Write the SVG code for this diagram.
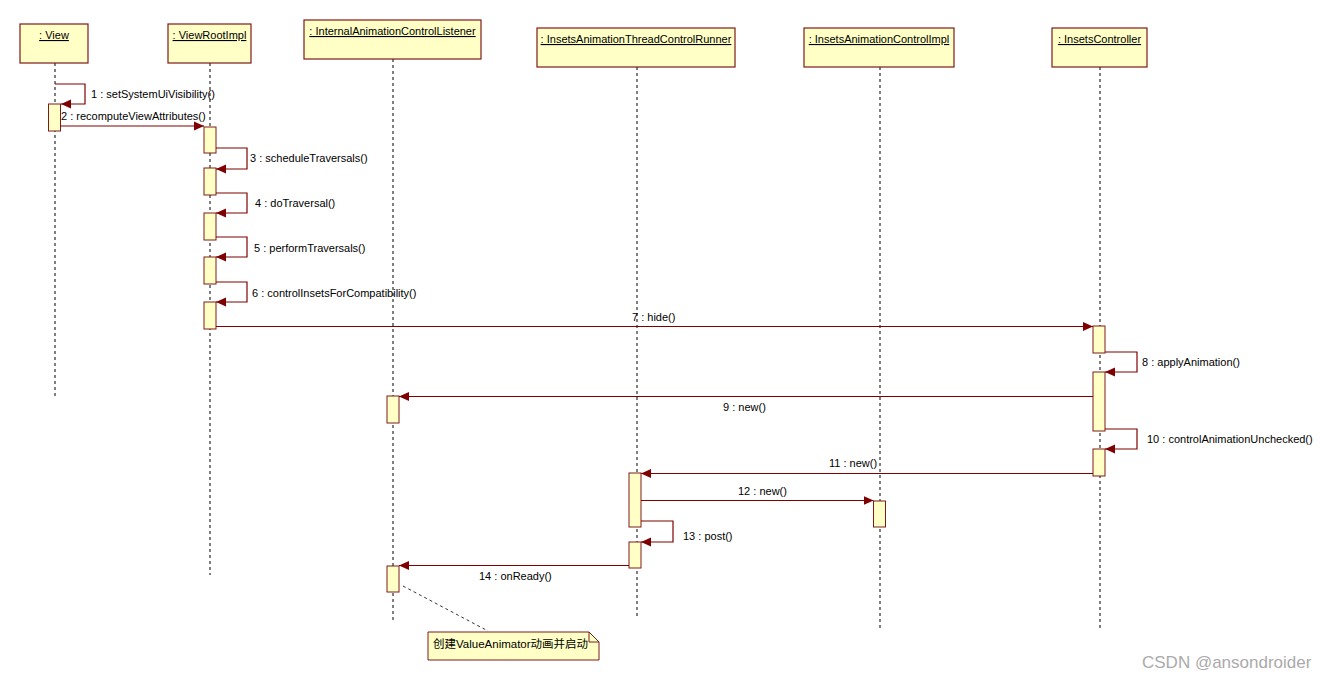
<svg xmlns="http://www.w3.org/2000/svg" width="1327" height="681" viewBox="0 0 1327 681">
<style>
.box{fill:#ffffc6;stroke:#7f1a1a;stroke-width:1.2}
.act{fill:#ffffc6;stroke:#7f1a1a;stroke-width:1}
.life{stroke:#000;stroke-width:1;stroke-dasharray:3,3;fill:none}
.msg{stroke:#7f0000;stroke-width:1.2;fill:none;marker-end:url(#ah)}
.t{font-family:"Liberation Sans",Arial,sans-serif;font-size:11px;fill:#000}
.name{font-family:"Liberation Sans",Arial,sans-serif;font-size:11px;fill:#000;text-decoration:underline;text-anchor:middle}
.note{fill:#ffffc6;stroke:#7f1a1a;stroke-width:1}
</style>
<defs>
<marker id="ah" markerUnits="userSpaceOnUse" markerWidth="10" markerHeight="10" refX="10" refY="5" orient="auto">
<path d="M0,0.5 L10,5 L0,9.5 z" fill="#7f0000"/>
</marker>
</defs>
<rect width="1327" height="681" fill="#fff"/>

<g id="lifelines">
<line class="life" x1="55" y1="63" x2="55" y2="397"/>
<line class="life" x1="210" y1="63" x2="210" y2="575"/>
<line class="life" x1="393" y1="59" x2="393" y2="620"/>
<line class="life" x1="637" y1="67" x2="637" y2="617"/>
<line class="life" x1="880" y1="67" x2="880" y2="628"/>
<line class="life" x1="1100" y1="67" x2="1100" y2="628"/>
</g>

<g id="node-view"><rect class="box" x="20" y="24" width="68" height="39"/><text class="name" x="54" y="39">: View</text></g>
<g id="node-viewrootimpl"><rect class="box" x="168" y="24" width="83" height="39"/><text class="name" x="209.5" y="39">: ViewRootImpl</text></g>
<g id="node-listener"><rect class="box" x="304" y="20" width="177" height="39"/><text class="name" x="392.5" y="35">: InternalAnimationControlListener</text></g>
<g id="node-runner"><rect class="box" x="537" y="28" width="198" height="39"/><text class="name" x="636" y="43">: InsetsAnimationThreadControlRunner</text></g>
<g id="node-impl"><rect class="box" x="804" y="28" width="150" height="39"/><text class="name" x="879" y="43">: InsetsAnimationControlImpl</text></g>
<g id="node-controller"><rect class="box" x="1052" y="28" width="95" height="39"/><text class="name" x="1099.5" y="43">: InsetsController</text></g>

<g id="activations">
<rect class="act" x="48.5" y="104" width="12" height="27"/>
<rect class="act" x="204" y="127" width="12" height="26"/>
<rect class="act" x="204" y="168" width="12" height="27"/>
<rect class="act" x="204" y="213" width="12" height="27"/>
<rect class="act" x="204" y="257" width="12" height="27"/>
<rect class="act" x="204" y="302" width="12" height="27"/>
<rect class="act" x="1093" y="326" width="12" height="27"/>
<rect class="act" x="1093" y="372" width="12" height="59"/>
<rect class="act" x="1093" y="449" width="12" height="27"/>
<rect class="act" x="387" y="396" width="12" height="27"/>
<rect class="act" x="387" y="566" width="12" height="26"/>
<rect class="act" x="629" y="473" width="12" height="54"/>
<rect class="act" x="629" y="542" width="12" height="26"/>
<rect class="act" x="873.5" y="501" width="12" height="26"/>
</g>

<g id="connectors">
<polyline class="msg" points="55,84 85,84 85,104 61,104"/>
<line class="msg" x1="60.5" y1="126" x2="204" y2="126"/>
<polyline class="msg" points="216,148 247,148 247,169 216,169"/>
<polyline class="msg" points="216,193 247,193 247,213 216,213"/>
<polyline class="msg" points="216,237 247,237 247,257 216,257"/>
<polyline class="msg" points="216,282 247,282 247,302 216,302"/>
<line class="msg" x1="216" y1="326.5" x2="1093" y2="326.5"/>
<polyline class="msg" points="1105,352 1137,352 1137,372 1105,372"/>
<line class="msg" x1="1093" y1="396.5" x2="399" y2="396.5"/>
<polyline class="msg" points="1105,429 1137,429 1137,449 1105,449"/>
<line class="msg" x1="1093" y1="473.5" x2="641" y2="473.5"/>
<line class="msg" x1="641" y1="500.5" x2="873.5" y2="500.5"/>
<polyline class="msg" points="641,521 673,521 673,542 641,542"/>
<line class="msg" x1="629" y1="565.5" x2="399" y2="565.5"/>
<line x1="403" y1="586" x2="488" y2="631" stroke="#000" stroke-width="0.8" stroke-dasharray="3,3"/>
</g>

<g id="labels">
<text class="t" x="91" y="98">1 : setSystemUiVisibility()</text>
<text class="t" x="61" y="120">2 : recomputeViewAttributes()</text>
<text class="t" x="250" y="162">3 : scheduleTraversals()</text>
<text class="t" x="255" y="207">4 : doTraversal()</text>
<text class="t" x="254" y="252">5 : performTraversals()</text>
<text class="t" x="252" y="297">6 : controlInsetsForCompatibility()</text>
<text class="t" x="632" y="321">7 : hide()</text>
<text class="t" x="1142" y="366">8 : applyAnimation()</text>
<text class="t" x="723" y="411">9 : new()</text>
<text class="t" x="1147" y="443">10 : controlAnimationUnchecked()</text>
<text class="t" x="829" y="467">11 : new()</text>
<text class="t" x="738" y="495">12 : new()</text>
<text class="t" x="683" y="540">13 : post()</text>
<text class="t" x="479" y="580">14 : onReady()</text>
</g>

<g id="note">
<path class="note" d="M428,632 L589,632 L599,642 L599,660 L428,660 z"/>
<path d="M589,632 L589,642 L599,642" fill="none" stroke="#7f1a1a" stroke-width="1"/>
<text x="433" y="648" font-family="'Liberation Sans','Noto Sans CJK SC',sans-serif" font-size="11.5" fill="#000">创建ValueAnimator动画并启动</text>
</g>

<text x="1142" y="668" font-family="'Liberation Sans',Arial,sans-serif" font-size="17" fill="#aaa">CSDN @ansondroider</text>
</svg>
